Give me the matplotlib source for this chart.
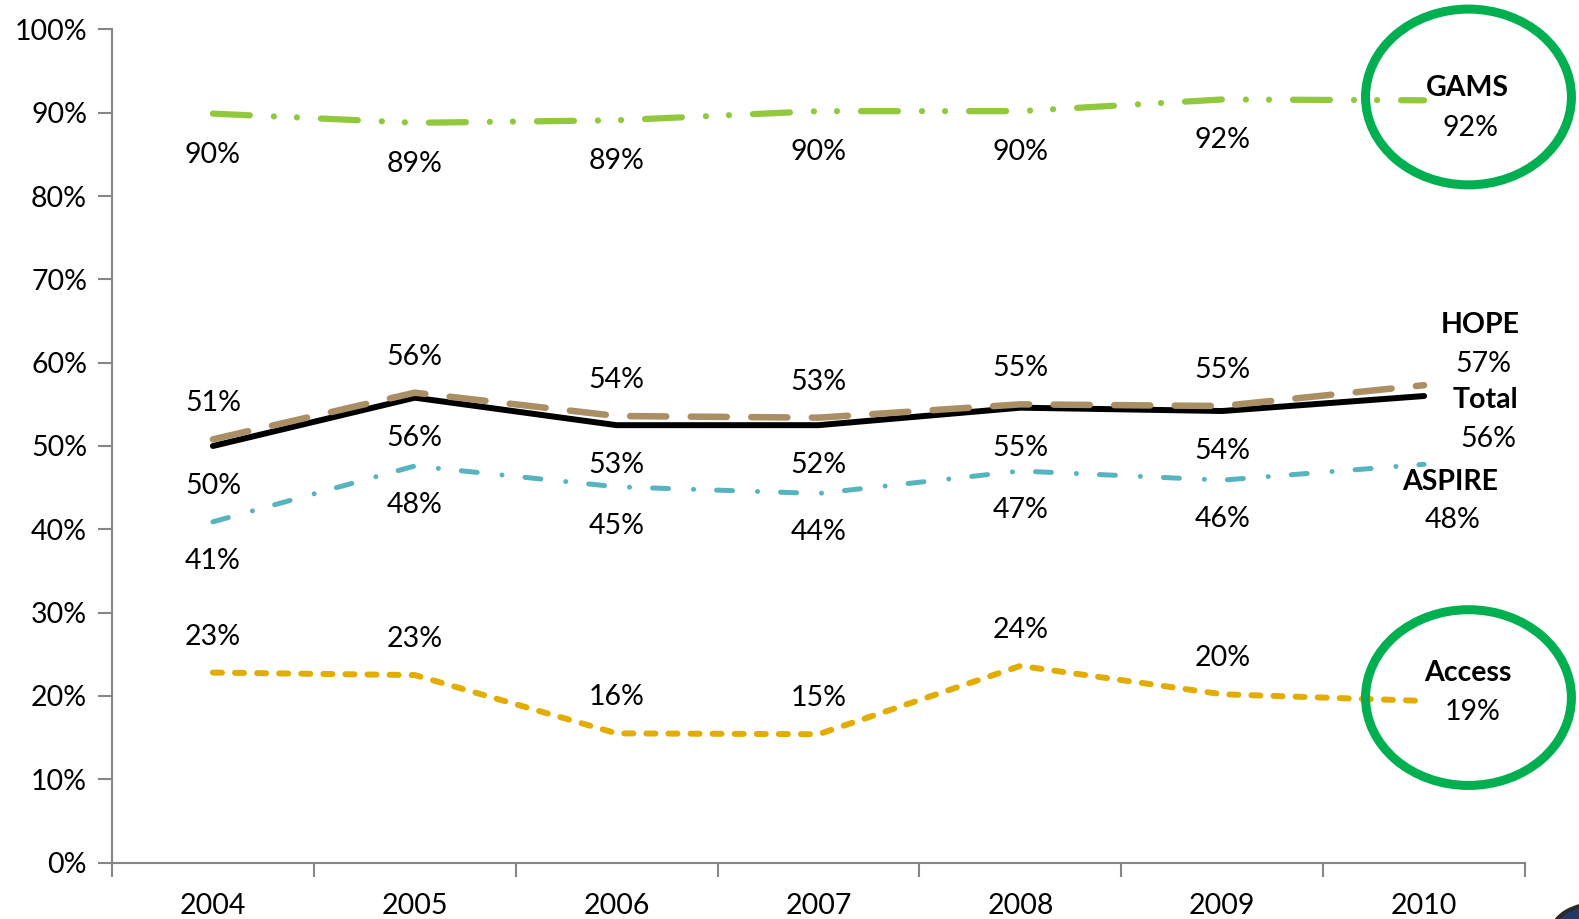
import matplotlib
matplotlib.use("Agg")
import matplotlib.pyplot as plt
from matplotlib.patches import Ellipse, Circle

plt.rcParams['font.family'] = ['Lato', 'DejaVu Sans']
plt.rcParams['lines.scale_dashes'] = False

# data (percent)
years = ['2004', '2005', '2006', '2007', '2008', '2009', '2010']
gams = [89.9, 88.8, 89.1, 90.2, 90.2, 91.6, 91.5]
hope = [50.8, 56.4, 53.6, 53.4, 55.0, 54.8, 57.3]
total = [50.0, 55.8, 52.5, 52.5, 54.6, 54.2, 56.0]
aspire = [40.9, 47.6, 45.1, 44.3, 47.0, 45.9, 47.8]
access = [22.8, 22.5, 15.5, 15.4, 23.6, 20.2, 19.4]

gams_labels = ['90%', '89%', '89%', '90%', '90%', '92%', '92%']
hope_labels = ['51%', '56%', '54%', '53%', '55%', '55%', '57%']
total_labels = ['50%', '56%', '53%', '52%', '55%', '54%', '56%']
aspire_labels = ['41%', '48%', '45%', '44%', '47%', '46%', '48%']
access_labels = ['23%', '23%', '16%', '15%', '24%', '20%', '19%']

FS = 20.5
fig = plt.figure(figsize=(15.79, 9.19), dpi=100)
ax = fig.add_axes([112 / 1579, 56.5 / 919, 1413 / 1579, 833 / 919])

x = list(range(len(years)))

series = [
    # name, values, labels, color, lw, dashes, label offset (px), end name offset, end value offset
    ('GAMS', gams, gams_labels, '#92C83E', 4.5, (0, (26.6, 17.3, 0.01, 16.6, 0.01, 17.3)),
     -41, (43, 12), (46, -28)),
    ('Access', access, access_labels, '#E2AC00', 4.3, (0, (6.5, 9.4)),
     36, (44, 28), (49, -11)),
    ('ASPIRE', aspire, aspire_labels, '#56B4BE', 3.6, (0, (11.5, 18, 0.01, 16.6)),
     -39, (26, -18), (29, -56)),
    ('Total', total, total_labels, '#000000', 4.3, 'solid',
     -40, (61, -4), (64, -43)),
    ('HOPE', hope, hope_labels, '#A98F63', 4.7, (0, (26, 17.6)),
     36, (56, 60), (59, 21)),
]

for name, vals, labs, color, lw, ls, off, name_off, val_off in series:
    ax.plot(x, vals, color=color, lw=lw, linestyle=ls,
            dash_capstyle='round', solid_capstyle='round', solid_joinstyle='round')
    # point labels (all but last)
    for xi, v, lab in zip(x[:-1], vals[:-1], labs[:-1]):
        ax.annotate(lab, (xi, v), xytext=(0, off), textcoords='offset pixels',
                    ha='center', va='center', fontsize=FS, color='black')
    # end labels: series name + value
    ax.annotate(name, (x[-1], vals[-1]), xytext=name_off, textcoords='offset pixels',
                ha='center', va='center', fontsize=FS, fontweight='bold',
                color='black', annotation_clip=False)
    ax.annotate(labs[-1], (x[-1], vals[-1]), xytext=val_off, textcoords='offset pixels',
                ha='center', va='center', fontsize=FS, color='black',
                annotation_clip=False)

# green highlight circles around GAMS and Access end values
for vals in (gams, access):
    ax.add_patch(Ellipse((x[-1] + 0.22, vals[-1] + 0.4), 1.02, 21.1, fill=False,
                         edgecolor='#00B050', lw=6.5, clip_on=False, zorder=5))

ax.set_xlim(-0.5, len(years) - 0.5)
ax.set_ylim(0, 100)
ax.set_yticks(range(0, 101, 10))
ax.set_yticklabels([f'{v}%' for v in range(0, 101, 10)], fontsize=FS)
ax.set_xticks(x)
ax.set_xticklabels(years, fontsize=FS)
ax.set_xticks([i - 0.5 for i in range(len(years) + 1)], minor=True)
ax.tick_params(axis='x', which='major', length=0, pad=22)
ax.tick_params(axis='x', which='minor', length=10, width=1.5, color='#868686', direction='out')
ax.tick_params(axis='y', length=10, width=1.5, color='#868686', pad=8)

for side in ('top', 'right'):
    ax.spines[side].set_visible(False)
for side in ('left', 'bottom'):
    ax.spines[side].set_color('#868686')
    ax.spines[side].set_linewidth(1.5)

# corner logo fragment
fig.patches.append(Circle((1600 / 1579, -12 / 919), 0.03, transform=fig.transFigure,
                          facecolor='#1F3A6B', edgecolor='#2a2a2a', lw=3))

fig.savefig('out.png', dpi=100)
